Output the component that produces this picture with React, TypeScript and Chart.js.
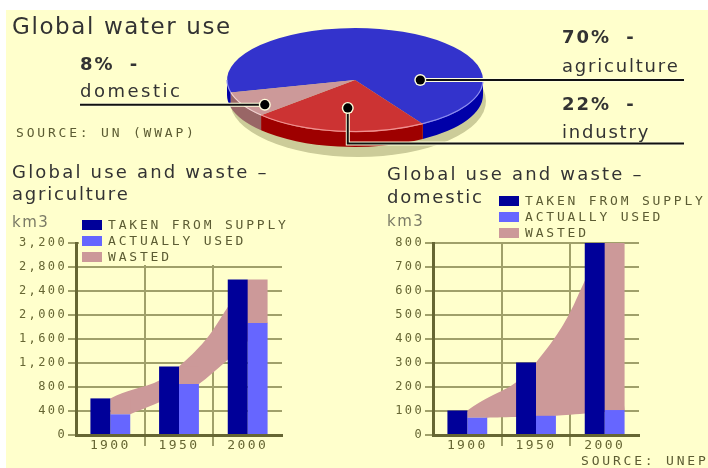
import React, { useEffect, useRef } from 'react';
import { Chart, registerables } from 'chart.js';

Chart.register(...registerables);

// ---------- data ----------
const pieLabels = ['agriculture', 'industry', 'domestic'];
const pieShares = [70, 22, 8];
const pieCaptions = ['70% -', '22% -', '8% -'];

const years = ['1900', '1950', '2000'];
const seriesNames = ['TAKEN FROM SUPPLY', 'ACTUALLY USED', 'WASTED'];

const agriTaken = [610, 1140, 2590];
const agriUsed = [345, 850, 1865];
const agriWasted = [265, 290, 725];
const agriMax = 3200;
const agriStep = 400;

const domTaken = [102, 302, 800];
const domUsed = [72, 80, 104];
const domWasted = [30, 222, 696];
const domMax = 800;
const domStep = 100;

// ---------- styles ----------
const CREAM = '#FFFFCC';
const TAKEN_C = '#000099';
const USED_C = '#6666FF';
const WASTE_C = '#CC9999';
const AXIS_C = '#666633';
const GRID_C = '#A0A06A';
const TICK_C = '#666633';
const PIE_FACE = ['#3333CC', '#CC3333', '#CC9999'];
const PIE_SIDE = ['#0000A8', '#9E0000', '#996666'];
const PIE_RIM = ['#8C8CF0', '#F09090', '#F0D0D0'];
const SANS = '"DejaVu Sans", Verdana, sans-serif';
const MONO = '"DejaVu Sans Mono", monospace';

const spacingPlugin = {
  id: 'spacing',
  beforeDraw(chart: any, _a: any, opts: any) {
    chart.ctx.letterSpacing = opts.value || '0px';
  },
};

// cardinal spline control points (same scheme as Chart.js line tension)
function splinePath(ctx: any, pts: number[][], t: number, reverse: boolean) {
  const p = reverse ? [...pts].reverse() : pts;
  const n = p.length;
  const cps = p.map((cur, i) => {
    const prev = p[Math.max(i - 1, 0)];
    const next = p[Math.min(i + 1, n - 1)];
    const d01 = Math.hypot(cur[0] - prev[0], cur[1] - prev[1]);
    const d12 = Math.hypot(next[0] - cur[0], next[1] - cur[1]);
    const sum = d01 + d12 || 1;
    const fa = (t * d01) / sum;
    const fb = (t * d12) / sum;
    return {
      prev: [cur[0] - fa * (next[0] - prev[0]), cur[1] - fa * (next[1] - prev[1])],
      next: [cur[0] + fb * (next[0] - prev[0]), cur[1] + fb * (next[1] - prev[1])],
    };
  });
  if (!reverse) ctx.moveTo(p[0][0], p[0][1]);
  else ctx.lineTo(p[0][0], p[0][1]);
  for (let i = 0; i < n - 1; i++) {
    ctx.bezierCurveTo(cps[i].next[0], cps[i].next[1], cps[i + 1].prev[0], cps[i + 1].prev[1], p[i + 1][0], p[i + 1][1]);
  }
}

// waste band: upper edge through the "taken" bar tops, lower edge through the "used" bar tops (right corners)
const wasteBand = {
  id: 'wasteBand',
  beforeDatasetsDraw(chart: any, _a: any, o: any) {
    const ys = chart.scales.y;
    const topMeta = chart.getDatasetMeta(o.topIndex);
    const botMeta = chart.getDatasetMeta(o.bottomIndex);
    const topVals = chart.data.datasets[o.topIndex].data;
    const botVals = chart.data.datasets[o.bottomIndex].data;
    const topPts = topMeta.data.map((bar: any, i: number) => {
      const { x, width } = bar.getProps(['x', 'width'], true);
      return [x + width / 2, ys.getPixelForValue(topVals[i])];
    });
    const botPts = botMeta.data.map((bar: any, i: number) => {
      const { x, width } = bar.getProps(['x', 'width'], true);
      return [x + width / 2, ys.getPixelForValue(botVals[i])];
    });
    const ctx = chart.ctx;
    const a = chart.chartArea;
    ctx.save();
    ctx.beginPath();
    ctx.rect(a.left, a.top, a.right - a.left, a.bottom - a.top);
    ctx.clip();
    ctx.beginPath();
    splinePath(ctx, topPts, o.topTension, false);
    splinePath(ctx, botPts, o.bottomTension, true);
    ctx.closePath();
    ctx.fillStyle = o.color;
    ctx.fill();
    ctx.restore();
  },
};

const pie3d = {
  id: 'pie3d',
  beforeDatasetsDraw(chart: any, _a: any, o: any) {
    const arcs = chart.getDatasetMeta(0).data;
    if (!arcs.length) return;
    const { x: cx, y: cy, outerRadius: R } = arcs[0].getProps(['x', 'y', 'outerRadius'], true);
    const rx = R * o.kx, ry = R * o.ky, d = o.depth;
    const ctx = chart.ctx;
    ctx.save();
    ctx.fillStyle = o.shadow;
    ctx.beginPath();
    ctx.ellipse(cx + o.shadowDx, cy + d + o.shadowDy, rx, ry + o.shadowGrow, 0, 0, Math.PI * 2);
    ctx.fill();
    arcs.forEach((arc: any, i: number) => {
      const { startAngle, endAngle } = arc.getProps(['startAngle', 'endAngle'], true);
      for (let k = -2; k <= 2; k++) {
        const lo = Math.max(startAngle, 2 * Math.PI * k);
        const hi = Math.min(endAngle, 2 * Math.PI * k + Math.PI);
        if (hi > lo) {
          ctx.beginPath();
          ctx.ellipse(cx, cy, rx, ry, 0, lo, hi, false);
          ctx.ellipse(cx, cy + d, rx, ry, 0, hi, lo, true);
          ctx.closePath();
          ctx.fillStyle = o.sides[i];
          ctx.fill();
        }
      }
    });
    ctx.restore();
    ctx.save();
    ctx.translate(cx, cy);
    ctx.scale(o.kx, o.ky);
    ctx.translate(-cx, -cy);
  },
  afterDatasetsDraw(chart: any, _a: any, o: any) {
    const ctx = chart.ctx;
    ctx.restore();
    const arcs = chart.getDatasetMeta(0).data;
    if (!arcs.length) return;
    const { x: cx, y: cy, outerRadius: R } = arcs[0].getProps(['x', 'y', 'outerRadius'], true);
    const rx = R * o.kx, ry = R * o.ky;
    ctx.save();
    arcs.forEach((arc: any, i: number) => {
      const { startAngle, endAngle } = arc.getProps(['startAngle', 'endAngle'], true);
      for (let k = -2; k <= 2; k++) {
        const lo = Math.max(startAngle, 2 * Math.PI * k);
        const hi = Math.min(endAngle, 2 * Math.PI * k + Math.PI);
        if (hi > lo) {
          ctx.beginPath();
          ctx.ellipse(cx, cy, rx, ry - 0.5, 0, lo, hi, false);
          ctx.strokeStyle = o.rims[i];
          ctx.lineWidth = 1.2;
          ctx.stroke();
        }
      }
    });
    o.leaders.forEach((L: any) => {
      const a = (L.angle * Math.PI) / 180;
      const px = cx + rx * L.frac * Math.cos(a);
      const py = cy + ry * L.frac * Math.sin(a);
      const pts: number[][] = [[px, py]];
      if (L.elbowY != null) {
        pts.push([px, L.elbowY]);
        pts.push([L.toX, L.elbowY]);
      } else {
        pts.push([L.toX, py]);
      }
      const path = () => {
        ctx.beginPath();
        ctx.moveTo(pts[0][0], pts[0][1]);
        for (let j = 1; j < pts.length; j++) ctx.lineTo(pts[j][0], pts[j][1]);
      };
      ctx.lineJoin = 'miter';
      path();
      ctx.strokeStyle = '#FFFFDD';
      ctx.lineWidth = 4;
      ctx.stroke();
      path();
      ctx.strokeStyle = '#111111';
      ctx.lineWidth = 2;
      ctx.stroke();
      ctx.beginPath();
      ctx.arc(px, py, 6, 0, Math.PI * 2);
      ctx.fillStyle = '#FFFFDD';
      ctx.fill();
      ctx.beginPath();
      ctx.arc(px, py, 4.6, 0, Math.PI * 2);
      ctx.fillStyle = '#000000';
      ctx.fill();
    });
    ctx.restore();
  },
};

function pieConfig(): any {
  return {
    type: 'pie',
    data: {
      labels: pieLabels,
      datasets: [{ data: pieShares, backgroundColor: PIE_FACE, borderWidth: 0, hoverOffset: 0, clip: false }],
    },
    options: {
      animation: false,
      responsive: false,
      events: [],
      rotation: 256,
      layout: { padding: { left: 200, right: 198, top: 0, bottom: 5 } },
      plugins: {
        legend: { display: false },
        tooltip: { enabled: false },
        pie3d: {
          kx: 1.6,
          ky: 0.65,
          depth: 15,
          shadow: '#CCCC99',
          shadowDx: 3,
          shadowDy: 6,
          shadowGrow: 4,
          sides: PIE_SIDE,
          rims: PIE_RIM,
          leaders: [
            { angle: 0, frac: 0.51, toX: 684 },
            { angle: 96, frac: 0.54, elbowY: 143.5, toX: 684 },
            { angle: 146, frac: 0.85, toX: 80 },
          ],
        },
      },
    },
    plugins: [pie3d],
  };
}

function barConfig(taken: number[], used: number[], wasted: number[], yMax: number, yStep: number): any {
  return {
    type: 'bar',
    data: {
      labels: years,
      datasets: [
        { label: seriesNames[0], data: taken, backgroundColor: TAKEN_C, stack: 'taken' },
        { label: seriesNames[1], data: used, backgroundColor: USED_C, stack: 'used' },
        { label: seriesNames[2], data: wasted, backgroundColor: WASTE_C, stack: 'used' },
      ],
    },
    options: {
      animation: false,
      responsive: false,
      events: [],
      categoryPercentage: 0.58,
      barPercentage: 1,
      layout: { padding: { left: 0, right: 24, top: 13, bottom: 0 } },
      plugins: {
        legend: { display: false },
        tooltip: { enabled: false },
        spacing: { value: '2.4px' },
        wasteBand: { topIndex: 0, bottomIndex: 1, color: WASTE_C, topTension: 0.5, bottomTension: 0.2 },
      },
      scales: {
        x: {
          stacked: true,
          offset: true,
          grid: {
            offset: true,
            color: (c: any) => (c.type === 'tick' && c.index > 0 ? GRID_C : 'rgba(0,0,0,0)'),
            lineWidth: 2,
            tickLength: 11,
          },
          border: { color: AXIS_C, width: 3 },
          ticks: { color: TICK_C, font: { family: MONO, size: 13 }, padding: -8, maxRotation: 0, autoSkip: false },
          afterFit: (s: any) => {
            s.height = 27;
          },
        },
        y: {
          stacked: true,
          min: 0,
          max: yMax,
          ticks: { stepSize: yStep, color: TICK_C, font: { family: MONO, size: 12 }, padding: 1 },
          grid: { color: GRID_C, lineWidth: 2, tickLength: 8 },
          border: { color: AXIS_C, width: 3 },
          afterFit: (s: any) => {
            s.width = 70;
          },
        },
      },
    },
    plugins: [spacingPlugin, wasteBand],
  };
}

const abs = (left: number, top: number, size: number, extra: any = {}): any => ({
  position: 'absolute',
  left,
  top,
  fontFamily: SANS,
  fontSize: size,
  lineHeight: `${size}px`,
  whiteSpace: 'pre',
  color: '#333333',
  ...extra,
});

const pixelText = (left: number, top: number, extra: any = {}): any =>
  abs(left, top, 13, { fontFamily: MONO, letterSpacing: '2.8px', color: '#5C5C33', ...extra });

function Legend({ left, top }: { left: number; top: number }) {
  const colors = [TAKEN_C, USED_C, WASTE_C];
  return (
    <div style={{ position: 'absolute', left: left - 3, top, background: CREAM, paddingLeft: 3, paddingRight: 4 }}>
      {seriesNames.map((n, i) => (
        <div key={n} style={{ display: 'flex', alignItems: 'center', height: 16 }}>
          <span style={{ display: 'inline-block', width: 20, height: 10, background: colors[i], marginRight: 6 }} />
          <span
            style={{
              fontFamily: MONO,
              fontSize: 13,
              lineHeight: '16px',
              letterSpacing: '2.8px',
              color: '#5C5C33',
              whiteSpace: 'nowrap',
            }}
          >
            {n}
          </span>
        </div>
      ))}
    </div>
  );
}

export default function App() {
  const pieRef = useRef<HTMLCanvasElement>(null);
  const agriRef = useRef<HTMLCanvasElement>(null);
  const domRef = useRef<HTMLCanvasElement>(null);

  useEffect(() => {
    const charts = [
      new Chart(pieRef.current as HTMLCanvasElement, pieConfig()),
      new Chart(agriRef.current as HTMLCanvasElement, barConfig(agriTaken, agriUsed, agriWasted, agriMax, agriStep)),
      new Chart(domRef.current as HTMLCanvasElement, barConfig(domTaken, domUsed, domWasted, domMax, domStep)),
    ];
    return () => charts.forEach((c) => c.destroy());
  }, []);

  const big = { letterSpacing: '1.8px' };
  const pct = { fontWeight: 'bold', letterSpacing: '2px', wordSpacing: '7px' };
  return (
    <div style={{ position: 'absolute', left: 0, top: 0, width: 708, height: 468, overflow: 'hidden', background: '#FFFFFF' }}>
      <div style={{ position: 'absolute', left: 6, top: 10, width: 702, height: 458, background: CREAM }} />
      <canvas ref={pieRef} width={708} height={165} style={{ position: 'absolute', left: 0, top: 0, width: 708, height: 165 }} />
      <canvas ref={agriRef} width={300} height={232} style={{ position: 'absolute', left: 6, top: 230, width: 300, height: 232 }} />
      <canvas ref={domRef} width={300} height={232} style={{ position: 'absolute', left: 363, top: 230, width: 300, height: 232 }} />

      <div style={abs(12, 15, 23, { letterSpacing: '1.6px' })}>Global water use</div>
      <div style={abs(80, 55, 18, pct)}>{pieCaptions[2]}</div>
      <div style={abs(80, 81.5, 18, { letterSpacing: '2.5px' })}>{pieLabels[2]}</div>
      <div style={abs(562, 28, 18, pct)}>{pieCaptions[0]}</div>
      <div style={abs(562, 57, 18, big)}>{pieLabels[0]}</div>
      <div style={abs(562, 94.6, 18, pct)}>{pieCaptions[1]}</div>
      <div style={abs(562, 123, 18, big)}>{pieLabels[1]}</div>
      <div style={pixelText(16, 125.5)}>SOURCE: UN (WWAP)</div>

      <div style={abs(12, 163, 18, { letterSpacing: '2.2px' })}>Global use and waste –</div>
      <div style={abs(12, 185, 18, big)}>agriculture</div>
      <div style={abs(12, 214.6, 15, { letterSpacing: '1.5px', color: '#7A7A66' })}>km3</div>
      <Legend left={82} top={217} />

      <div style={abs(387, 165, 18, { letterSpacing: '2.2px' })}>Global use and waste –</div>
      <div style={abs(387, 188, 18, big)}>domestic</div>
      <div style={abs(387, 214, 15, { letterSpacing: '1.5px', color: '#7A7A66' })}>km3</div>
      <Legend left={499} top={193} />

      <div style={pixelText(581, 453.5)}>SOURCE: UNEP</div>
    </div>
  );
}
